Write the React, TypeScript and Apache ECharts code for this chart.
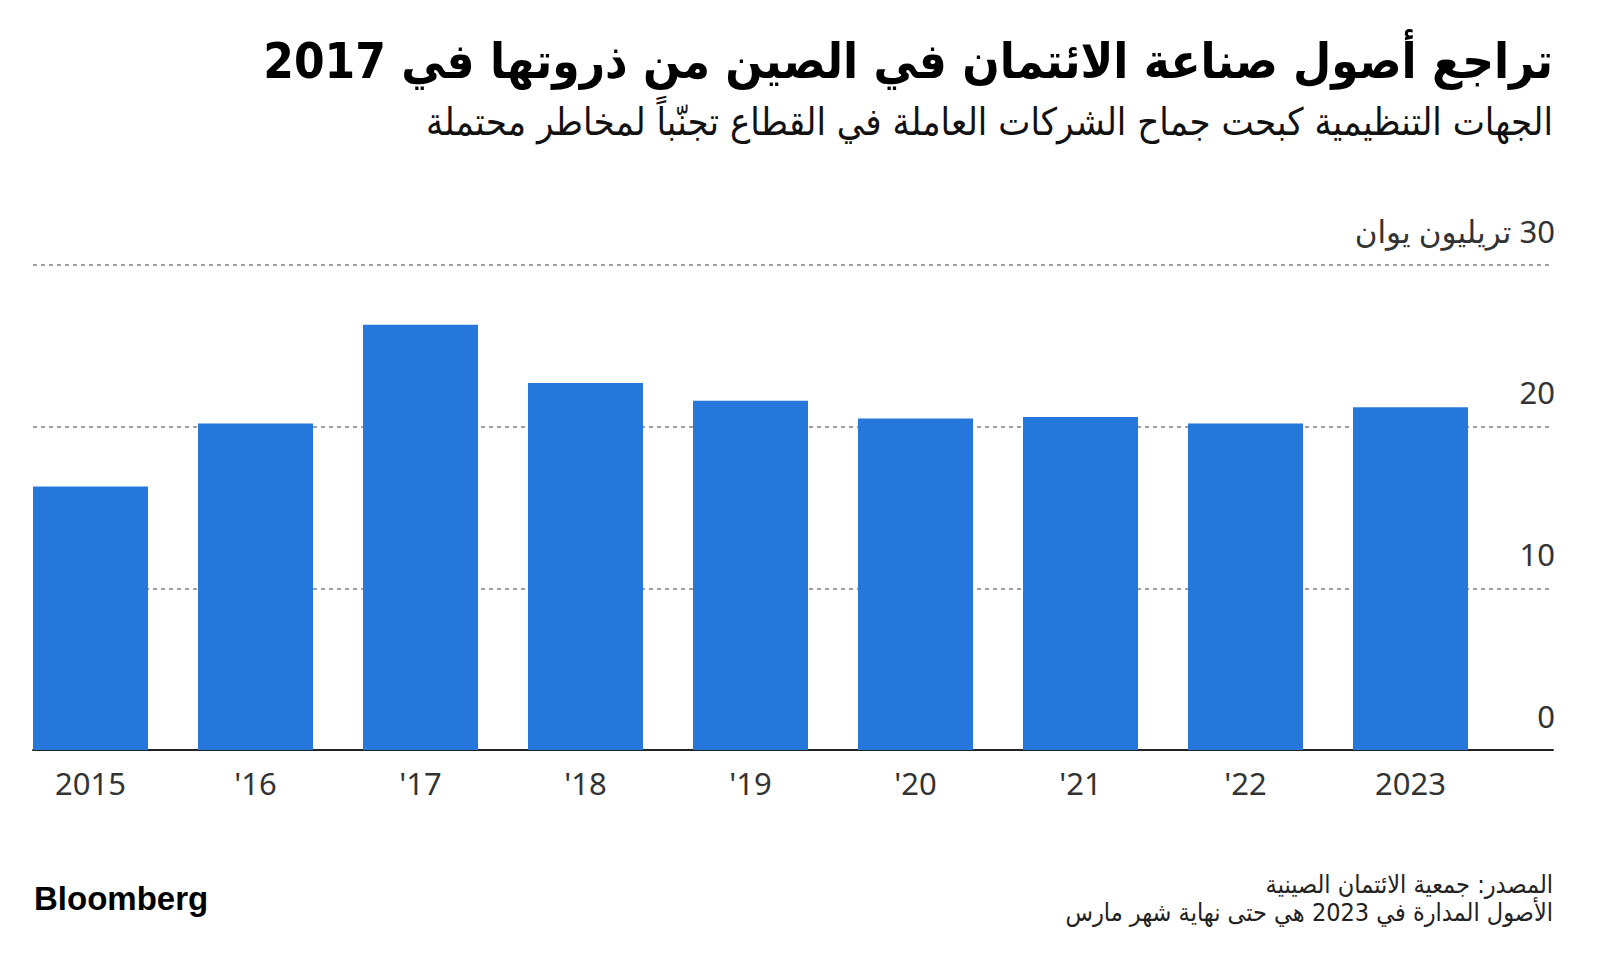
import React, { useEffect, useRef } from "react";
import * as echarts from "echarts";

const categories = ["2015", "'16", "'17", "'18", "'19", "'20", "'21", "'22", "2023"];
const values = [16.3, 20.2, 26.3, 22.7, 21.6, 20.5, 20.6, 20.2, 21.2];
const yMin = 0;
const yMax = 30;
const yInterval = 10;
const unitLabel = "تريليون يوان";

const titleText = "تراجع أصول صناعة الائتمان في الصين من ذروتها في 2017";
const subtitleText = "الجهات التنظيمية كبحت جماح الشركات العاملة في القطاع تجنّباً لمخاطر محتملة";
const sourceText = "المصدر: جمعية الائتمان الصينية";
const noteText = "الأصول المدارة في 2023 هي حتى نهاية شهر مارس";
const logoText = "Bloomberg";

const ARABIC = "'DejaVu Sans Condensed', 'DejaVu Sans', sans-serif";
const NUM = "'Noto Sans', 'DejaVu Sans', sans-serif";

export default function App() {
  const ref = useRef<HTMLDivElement>(null);
  useEffect(() => {
    if (!ref.current) return;
    const chart = echarts.init(ref.current, undefined, { renderer: "svg" });
    const gridTop = 265;
    const gridBottom = 204;
    chart.setOption({
      animation: false,
      backgroundColor: "#ffffff",
      grid: [
        { left: 8, right: 107, top: gridTop, bottom: gridBottom },
        { left: 33, right: 47, top: gridTop, bottom: gridBottom },
      ],
      xAxis: [
        {
          type: "category",
          gridIndex: 0,
          data: categories,
          axisLine: { show: false },
          axisTick: { show: false },
          axisLabel: { margin: 17, fontSize: 31, color: "#333", fontFamily: NUM },
        },
        {
          type: "value",
          gridIndex: 1,
          min: 0,
          max: 1,
          axisLine: { show: true, lineStyle: { color: "#222", width: 2 } },
          axisTick: { show: false },
          axisLabel: { show: false },
          splitLine: { show: false },
        },
      ],
      yAxis: [
        { type: "value", gridIndex: 0, min: yMin, max: yMax, interval: yInterval, show: false },
        {
          type: "value",
          gridIndex: 1,
          position: "right",
          min: yMin,
          max: yMax,
          interval: yInterval,
          axisLine: { show: false },
          axisTick: { show: false },
          splitLine: {
            show: true,
            showMinLine: false,
            lineStyle: { color: "#a0a0a0", width: 2, type: [4, 4] },
          },
          axisLabel: {
            inside: true,
            margin: -2,
            fontSize: 31,
            color: "#333",
            fontFamily: NUM,
            verticalAlign: "bottom",
            padding: [0, 0, 19, 0],
            formatter: (v: number) => (v === yMax ? "\u200F" + v + " " + unitLabel : String(v)),
          },
        },
      ],
      series: [
        {
          type: "bar",
          xAxisIndex: 0,
          yAxisIndex: 0,
          data: values,
          barWidth: 115,
          itemStyle: { color: "#2677dc" },
          z: 3,
        },
      ],
      graphic: [
        {
          type: "text",
          x: 1553,
          y: 61,
          style: {
            text: titleText,
            font: "bold 49px " + ARABIC,
            fill: "#000",
            align: "right",
            verticalAlign: "middle",
          },
        },
        {
          type: "text",
          x: 1553,
          y: 122,
          style: {
            text: subtitleText,
            font: "38px " + ARABIC,
            fill: "#111",
            align: "right",
            verticalAlign: "middle",
          },
        },
        {
          type: "text",
          x: 1553,
          y: 884,
          style: {
            text: sourceText,
            font: "25px " + ARABIC,
            fill: "#222",
            align: "right",
            verticalAlign: "middle",
          },
        },
        {
          type: "text",
          x: 1553,
          y: 912,
          style: {
            text: noteText,
            font: "25px " + ARABIC,
            fill: "#222",
            align: "right",
            verticalAlign: "middle",
          },
        },
        {
          type: "text",
          x: 34,
          y: 898,
          style: {
            text: logoText,
            font: "bold 33px 'Liberation Sans', Arial, sans-serif",
            fill: "#000",
            align: "left",
            verticalAlign: "middle",
          },
        },
      ],
    });
    return () => chart.dispose();
  }, []);
  return (
    <div
      ref={ref}
      style={{ position: "fixed", left: 0, top: 0, width: 1600, height: 954, background: "#fff" }}
    />
  );
}
